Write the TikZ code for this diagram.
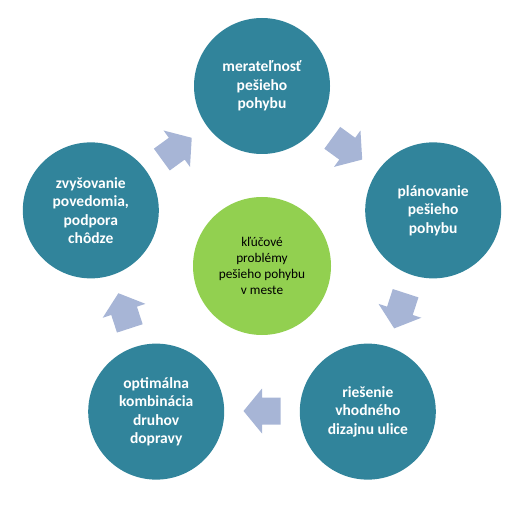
\documentclass[tikz,border=0pt]{standalone}
\usepackage{fontspec}
\setmainfont{Carlito}
\usetikzlibrary{calc}
\definecolor{tyrkys}{RGB}{49,132,155}
\definecolor{zelena}{RGB}{146,208,80}
\definecolor{sipka}{RGB}{167,181,214}
\begin{document}
\begin{tikzpicture}[x=1pt,y=1pt,
    kruh/.style={circle,fill=tyrkys,minimum size=136pt,inner sep=0pt,text=white,
      font=\fontsize{15.5}{18.5}\selectfont\bfseries,align=center},
    stred/.style={circle,fill=zelena,minimum size=138pt,inner sep=0pt,text=black,
      font=\fontsize{13.3}{16}\selectfont,align=center}]
			\useasboundingbox (0,0) rectangle (529,517);
			\coordinate (C) at (262,251);
			
			% Stredný kruh
			\node[stred] (klucove) at (C) {kľúčové\\problémy\\pešieho pohybu\\v meste};
			
			% Päť kruhov okolo
			\node[kruh] (meratelnost) at ($(C)+(90:180)$) {merateľnosť\\pešieho\\pohybu};
			\node[kruh] (planovanie) at ($(C)+(18:180)$) {plánovanie\\pešieho\\pohybu};
			\node[kruh] (riesenie) at ($(C)+(-54:180)$) {riešenie\\vhodného\\dizajnu ulice};
			\node[kruh] (kombinacia) at ($(C)+(-126:180)$) {optimálna\\kombinácia\\druhov\\dopravy};
			\node[kruh] (povedomie) at ($(C)+(162:180)$) {zvyšovanie\\povedomia,\\podpora\\chôdze};
			
			% Šípky medzi kruhmi
			\foreach \uhol in {54,-18,-90,-162,126}
				\fill[sipka,shift={($(C)+(\uhol:145)$)},rotate=\uhol-90]
					(-18.5,-13.5) -- (0,-13.5) -- (0,-22.5) -- (18.5,0) -- (0,22.5) -- (0,13.5) -- (-18.5,13.5) -- cycle;
		\end{tikzpicture}
\end{document}
